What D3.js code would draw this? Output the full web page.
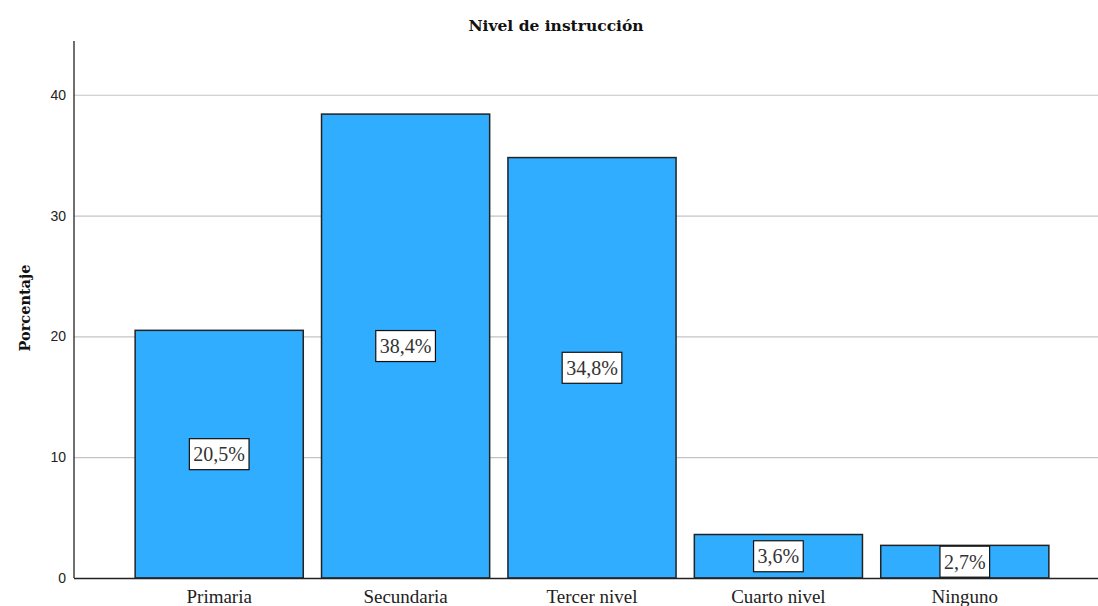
<!DOCTYPE html>
<html>
<head>
<meta charset="utf-8">
<script src="https://cdn.jsdelivr.net/npm/d3@7"></script>
<style>
  html, body { margin: 0; padding: 0; background: #fff; }
  svg { display: block; }
</style>
</head>
<body>
<svg id="chart" width="1098" height="606"></svg>
<script>
// Education level distribution (percent of respondents)
const categories = ["Primaria", "Secundaria", "Tercer nivel", "Cuarto nivel", "Ninguno"];
const percentages = [20.5, 38.4, 34.8, 3.6, 2.7];
const yTicks = [0, 10, 20, 30, 40];
const title = "Nivel de instrucción";
const yTitle = "Porcentaje";

const svg = d3.select("#chart");
const plotLeft = 74, plotRight = 1098, plotBottom = 578, plotTop = 41;

const y = d3.scaleLinear().domain([0, 44.45]).range([plotBottom, plotTop]);
const x = d3.scaleBand()
  .domain(categories)
  .range([126, 1058])
  .paddingInner(0.098)
  .paddingOuter(0.049);

const serif = "'Liberation Serif', 'Times New Roman', serif";
const wideSerif = "'DejaVu Serif', Georgia, serif";
const sans = "'Liberation Sans', Arial, sans-serif";

// Horizontal gridlines
svg.append("g")
  .selectAll("line")
  .data(yTicks.filter(d => d > 0))
  .join("line")
  .attr("x1", plotLeft).attr("x2", plotRight)
  .attr("y1", d => y(d) + 0.5).attr("y2", d => y(d) + 0.5)
  .attr("stroke", "#c4c4c4")
  .attr("stroke-width", 1.2);

// Y axis
const yAxis = d3.axisLeft(y).tickValues(yTicks).tickSize(0).tickPadding(8);
const gy = svg.append("g").attr("transform", `translate(${plotLeft},0)`).call(yAxis);
gy.select(".domain").remove();
gy.selectAll("text")
  .attr("font-family", sans)
  .attr("font-size", 14)
  .attr("fill", "#222");

const rows = categories.map((c, i) => ({ c, v: percentages[i] }));

// Bars
svg.append("g")
  .selectAll("rect")
  .data(rows)
  .join("rect")
  .attr("x", d => x(d.c))
  .attr("y", d => y(d.v))
  .attr("width", x.bandwidth())
  .attr("height", d => y(0) - y(d.v))
  .attr("fill", "#31adff")
  .attr("stroke", "#222")
  .attr("stroke-width", 1.5);

// Axis lines
svg.append("line")
  .attr("x1", plotLeft).attr("x2", plotLeft)
  .attr("y1", plotTop).attr("y2", plotBottom)
  .attr("stroke", "#222").attr("stroke-width", 1.3);
svg.append("line")
  .attr("x1", plotLeft).attr("x2", plotRight)
  .attr("y1", plotBottom + 0.5).attr("y2", plotBottom + 0.5)
  .attr("stroke", "#222").attr("stroke-width", 1.3);

// Category labels
const xAxis = d3.axisBottom(x).tickSize(0).tickPadding(0);
const gx = svg.append("g").attr("transform", `translate(0,${plotBottom})`).call(xAxis);
gx.select(".domain").remove();
gx.selectAll("text")
  .attr("font-family", serif)
  .attr("font-size", 19)
  .attr("fill", "#222")
  .attr("dy", null)
  .attr("y", 25);

// Value labels in boxed callouts at the middle of each bar
const fmt = v => v.toFixed(1).replace(".", ",") + "%";
const labels = svg.append("g")
  .selectAll("g")
  .data(rows)
  .join("g")
  .attr("transform", d => `translate(${x(d.c) + x.bandwidth() / 2},${Math.min(y(d.v / 2), plotBottom - 16)})`);

labels.each(function(d) {
  const g = d3.select(this);
  const t = g.append("text")
    .attr("text-anchor", "middle")
    .attr("dy", "0.35em")
    .attr("font-family", serif)
    .attr("font-size", 20)
    .attr("fill", "#333")
    .text(fmt(d.v));
  const w = t.node().getComputedTextLength();
  g.insert("rect", "text")
    .attr("x", -w / 2 - 4)
    .attr("y", -15.5)
    .attr("width", w + 8)
    .attr("height", 31)
    .attr("fill", "#fff")
    .attr("stroke", "#111")
    .attr("stroke-width", 1.2);
});

// Titles
svg.append("text")
  .attr("x", 556).attr("y", 31)
  .attr("text-anchor", "middle")
  .attr("font-family", wideSerif)
  .attr("font-weight", "bold")
  .attr("font-size", 15.5)
  .attr("fill", "#111")
  .text(title);

svg.append("text")
  .attr("transform", "translate(30,308) rotate(-90)")
  .attr("text-anchor", "middle")
  .attr("font-family", wideSerif)
  .attr("font-weight", "bold")
  .attr("font-size", 14.5)
  .attr("fill", "#111")
  .text(yTitle);
</script>
</body>
</html>
